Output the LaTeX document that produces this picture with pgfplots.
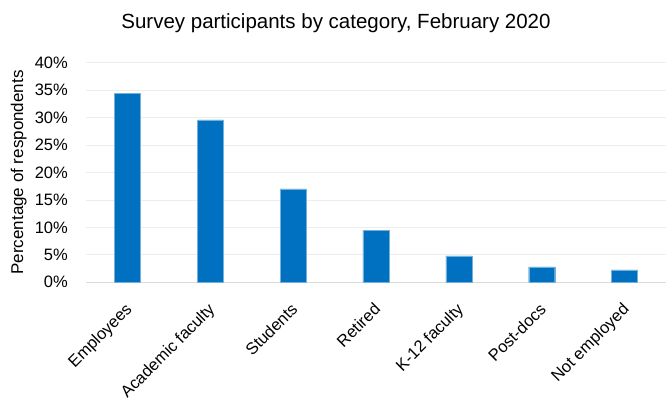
\documentclass[border=0pt]{standalone}
\usepackage{fontspec}
\setmainfont{Liberation Sans}
\usepackage{pgfplots}
\pgfplotsset{compat=1.18}
\definecolor{barblue}{HTML}{0070C0}
\definecolor{gridgray}{HTML}{EDEDED}
\definecolor{basegray}{HTML}{D9D9D9}
\begin{document}
\begin{tikzpicture}
\useasboundingbox (0,0) rectangle (667bp,400bp);
\begin{axis}[
    at={(86bp,117.7bp)}, anchor=south west,
    scale only axis,
    width=580bp, height=219.6bp,
    xmin=-0.5, xmax=6.5,
    ymin=0, ymax=40,
    ytick={0,5,...,40},
    /pgf/number format/assume math mode=true,
    yticklabel={\pgfmathprintnumber{\tick}\%},
    xtick={0,...,6},
    xticklabels={Employees, Academic faculty, Students, Retired, K-12 faculty, Post-docs, Not employed},
    major tick length=0pt,
    axis line style={draw=none},
    ymajorgrids=true,
    grid style={gridgray, line width=0.8pt},
    extra y ticks={0},
    extra y tick labels={},
    extra y tick style={grid style={basegray, line width=0.8pt}},
    ticklabel style={font=\fontsize{16.5bp}{19bp}\selectfont},
    yticklabel style={anchor=east, inner sep=0pt, xshift=-18bp},
    % shifts act in the rotated frame
    xticklabel style={rotate=45, anchor=north east, inner sep=0pt, xshift=-16bp, yshift=-11.5bp},
    every axis y label/.style={at={(axis description cs:-0.116,0.5)}, rotate=90, anchor=center},
    ylabel={Percentage of respondents},
    label style={font=\fontsize{17bp}{20bp}\selectfont},
    ybar, bar width=26bp, bar shift=0pt,
]
\addplot[fill=barblue, draw=barblue!55!white, line width=0.4pt] coordinates {
    (0,34.4) (1,29.6) (2,17.0) (3,9.4) (4,4.8) (5,2.8) (6,2.25)
};
\end{axis}
\node[anchor=base, font=\fontsize{20.5bp}{24bp}\selectfont] at (336bp,371.7bp) {Survey participants by category, February 2020};
\end{tikzpicture}
\end{document}
